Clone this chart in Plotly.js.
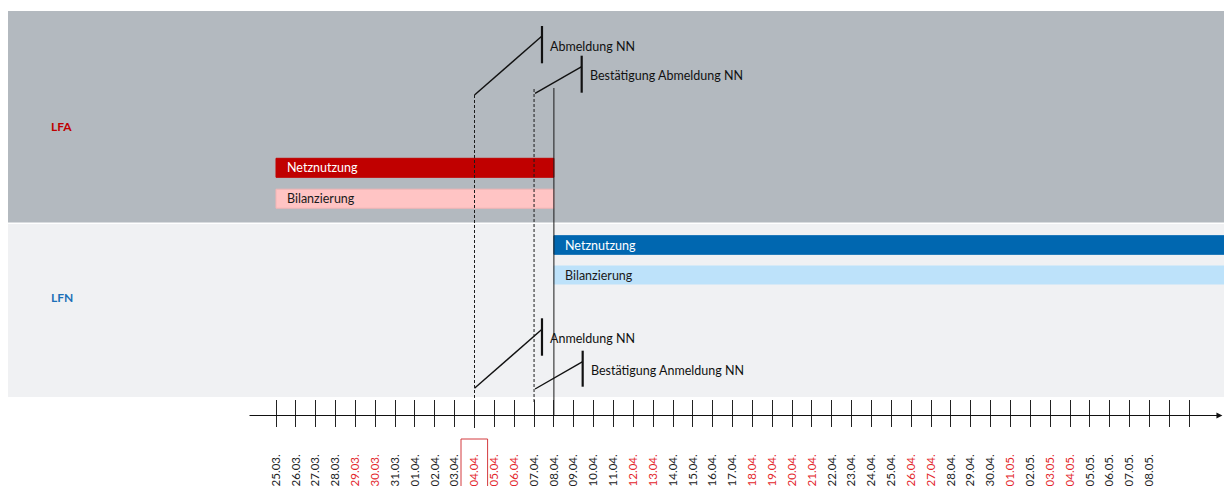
<!DOCTYPE html>
<html>
<head>
<meta charset="utf-8">
<script src="https://cdn.plot.ly/plotly-3.0.1.min.js"></script>
<style>html,body{margin:0;padding:0;background:#fff;}#chart{width:1224px;height:486px;}</style>
</head>
<body>
<div id="chart"></div>
<script>
// ---------- DATA ----------
const days = ['25.03.','26.03.','27.03.','28.03.','29.03.','30.03.','31.03.',
  '01.04.','02.04.','03.04.','04.04.','05.04.','06.04.','07.04.','08.04.','09.04.','10.04.',
  '11.04.','12.04.','13.04.','14.04.','15.04.','16.04.','17.04.','18.04.','19.04.','20.04.',
  '21.04.','22.04.','23.04.','24.04.','25.04.','26.04.','27.04.','28.04.','29.04.','30.04.',
  '01.05.','02.05.','03.05.','04.05.','05.05.','06.05.','07.05.','08.05.'];
const redDays = ['29.03.','30.03.','04.04.','05.04.','06.04.','12.04.','13.04.','18.04.','19.04.',
  '20.04.','21.04.','26.04.','27.04.','01.05.','03.05.','04.05.'];
const markedDay = '04.04.';
const extraTicks = 2;

const roles = ['LFA','LFN'];

const barNames = ['Netznutzung','Bilanzierung','Netznutzung','Bilanzierung'];
const barRole  = ['LFA','LFA','LFN','LFN'];
const barStart = ['25.03.','25.03.','08.04.','08.04.'];
const barEnd   = ['08.04.','08.04.','open','open'];

const eventNames = ['Abmeldung NN','Bestätigung Abmeldung NN','Anmeldung NN','Bestätigung Anmeldung NN'];
const eventRole  = ['LFA','LFA','LFN','LFN'];
const eventFrom  = [10, 13.05, 10, 13.05];   // day index where message starts
const eventTo    = [13.4, 15.4, 13.4, 15.45]; // day index where message arrives

const guideDays  = ['04.04.','07.04.','08.04.'];
const guideKind  = ['dash','dash','solid'];

// ---------- LAYOUT / STYLE ----------
const PX0 = 276, STEP = 19.85, W = 1224, H = 486;
const xr = [-PX0/STEP, (W-PX0)/STEP];
const idx = d => days.indexOf(d);

const roleStyle = {
  LFA: {band:'#b3b9bf', y0:11, y1:222.5, label:'#c00000', labelY:126},
  LFN: {band:'#f0f1f3', y0:224, y1:397, label:'#1c70b8', labelY:297}
};
const barGeom = [
  {y:167.8, h:19, fill:'#c00000', line:'#c00000', font:'#ffffff'},
  {y:198.7, h:19, fill:'#ffc4c4', line:'#f4b4b4', font:'#1a1a1a'},
  {y:245,   h:18.6, fill:'#0067b0', line:'#0067b0', font:'#ffffff'},
  {y:275,   h:18, fill:'#bde2fa', line:'#bde2fa', font:'#1a1a1a'}
];
const eventGeom = [
  {yFrom:95,   yTo:36,    m0:26,    m1:63.3,  ty:46},
  {yFrom:93.3, yTo:66.7,  m0:55.7,  m1:92.7,  ty:75},
  {yFrom:388.3,yTo:329.3, m0:318.3, m1:355.7, ty:338},
  {yFrom:389,  yTo:361.7, m0:350.7, m1:386.7, ty:370}
];
const guideGeom = [{y0:95,y1:428},{y0:89,y1:402},{y0:88,y1:416}];
const axisY = 415.5, tickBottom = 427;

const FONT = 'Lato, "Open Sans", sans-serif';

const traces = [];
const annotations = [];
const shapes = [];

// bands + role labels
roles.forEach(r => {
  const s = roleStyle[r];
  shapes.push({type:'rect', xref:'paper', yref:'y', x0:8/W, x1:1, y0:s.y0, y1:s.y1,
    fillcolor:s.band, line:{width:0}, layer:'below'});
  annotations.push({xref:'paper', yref:'y', x:49/W, y:s.labelY, xanchor:'left', yanchor:'middle',
    text:'<b>'+r+'</b>', showarrow:false, font:{family:FONT, size:12, color:s.label}});
});

// bars
barNames.forEach((n,i) => {
  const g = barGeom[i];
  const s = idx(barStart[i]);
  const e = barEnd[i] === 'open' ? xr[1] + 1 : idx(barEnd[i]);
  traces.push({type:'bar', orientation:'h', y:[g.y], x:[e - s], base:[s], width:g.h,
    marker:{color:g.fill, line:{color:g.line, width:1}}, hoverinfo:'skip', showlegend:false});
  annotations.push({x:s, y:g.y, xanchor:'left', yanchor:'middle', xshift:9, text:n, showarrow:false,
    font:{family:FONT, size:12.5, color:g.font}});
});

// guide lines
guideDays.forEach((d,i) => {
  const g = guideGeom[i];
  traces.push({type:'scatter', mode:'lines', x:[idx(d), idx(d)], y:[g.y0, g.y1],
    line:{color:'#1a1a1a', width:1, dash: guideKind[i]==='dash' ? '3px,2px' : 'solid'},
    hoverinfo:'skip', showlegend:false, cliponaxis:false});
});

// events
eventNames.forEach((n,i) => {
  const g = eventGeom[i];
  traces.push({type:'scatter', mode:'lines', x:[eventFrom[i], eventTo[i]], y:[g.yFrom, g.yTo],
    line:{color:'#111', width:1.4}, hoverinfo:'skip', showlegend:false});
  traces.push({type:'scatter', mode:'lines', x:[eventTo[i], eventTo[i]], y:[g.m0, g.m1],
    line:{color:'#111', width:2.2}, hoverinfo:'skip', showlegend:false});
  annotations.push({x:eventTo[i], y:g.ty, xanchor:'left', yanchor:'middle', xshift:6, text:n,
    showarrow:false, font:{family:FONT, size:12.5, color:'#111'}});
});

// time axis line with arrow
annotations.push({x:xr[1]-0.08, y:axisY, ax:-1.41, ay:axisY, axref:'x', ayref:'y', xref:'x', yref:'y',
  text:'', showarrow:true, arrowhead:2, arrowsize:1, arrowwidth:1.2, arrowcolor:'#111'});

// marked day box
const md = idx(markedDay);
shapes.push({type:'rect', xref:'x', yref:'y', x0:md-0.68, x1:md+0.66, y0:439, y1:492,
  line:{color:'#d33a3e', width:1}, fillcolor:'rgba(0,0,0,0)'});

const tickvals = [], ticktext = [];
for (let i = 0; i < days.length + extraTicks; i++) {
  tickvals.push(i);
  const d = days[i] || '';
  ticktext.push(redDays.includes(d) ? '<span style="color:#e3262b">'+d+'</span>' : d);
}

const layout = {
  width:W, height:H, margin:{l:0,r:0,t:0,b:0}, paper_bgcolor:'#fff', plot_bgcolor:'#fff',
  barmode:'overlay', showlegend:false,
  xaxis:{range:xr, tickvals, ticktext, tickangle:-90, ticks:'inside', ticklen:tickBottom-399.5,
    tickwidth:1, tickcolor:'#222', showgrid:false, zeroline:false, showline:false,
    anchor:'free', position:1 - tickBottom/H, ticklabelstandoff:24,
    tickfont:{family:FONT, size:11.5, color:'#222'}, fixedrange:true},
  yaxis:{range:[H,0], visible:false, fixedrange:true},
  shapes, annotations
};

Plotly.newPlot('chart', traces, layout, {displayModeBar:false, staticPlot:true});
</script>
</body>
</html>
